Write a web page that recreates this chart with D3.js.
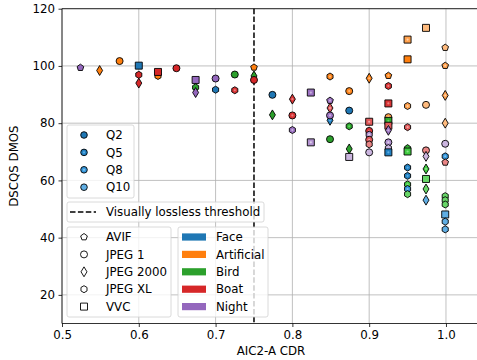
<!DOCTYPE html>
<html>
<head>
<meta charset="utf-8">
<script src="https://cdn.jsdelivr.net/npm/d3@7/dist/d3.min.js"></script>
<style>
  html, body { margin: 0; padding: 0; background: #fff; }
  svg { display: block; font-family: "DejaVu Sans", sans-serif; }
</style>
</head>
<body>
<svg id="chart" width="477" height="360"></svg>
<script>
// Per-image results: AIC2-A CDR vs. DSCQS DMOS, one entry per codec / content / quality
const cdr = [
  0.524, 0.549, 0.575, 0.600, 0.600, 0.600, 0.625, 0.625, 0.649, 0.674,
  0.674, 0.674, 0.700, 0.700, 0.725, 0.725, 0.750, 0.750, 0.750,
  0.774, 0.774, 0.800, 0.800, 0.800, 0.824, 0.824, 0.849, 0.849, 0.849,
  0.849, 0.849, 0.849, 0.874, 0.874, 0.874, 0.874, 0.874,
  0.900, 0.900, 0.900, 0.900, 0.900, 0.900, 0.900,
  0.925, 0.925, 0.925, 0.925, 0.925, 0.925, 0.925, 0.925, 0.925, 0.925,
  0.950, 0.950, 0.950, 0.950, 0.950, 0.950, 0.950, 0.950, 0.950, 0.950, 0.950,
  0.974, 0.974, 0.974, 0.974, 0.974, 0.974, 0.974, 0.974,
  0.999, 0.999, 0.999, 0.999, 0.999, 0.999, 0.999, 0.999, 0.999, 0.999, 0.999, 0.999, 0.999
];
const dmos = [
  99.4, 98.4, 101.7, 100.1, 96.9, 94.0, 96.5, 97.9, 99.2, 95.1,
  92.5, 90.7, 95.6, 91.7, 97.0, 91.5, 99.5, 96.5, 95.1,
  89.9, 82.9, 88.4, 82.7, 77.6, 90.7, 73.3, 96.3, 87.9, 85.3,
  81.0, 82.7, 74.4, 91.2, 84.4, 78.9, 71.0, 68.2,
  95.7, 80.5, 77.3, 76.0, 74.2, 72.6, 69.8,
  96.6, 93.0, 86.9, 82.1, 80.8, 79.1, 77.5, 73.3, 71.3, 69.8,
  109.2, 102.3, 86.0, 78.6, 71.3, 70.1, 64.5, 61.6, 58.6, 57.0, 55.2,
  113.3, 86.4, 70.5, 68.4, 64.0, 60.5, 57.0, 53.1,
  106.4, 100.1, 89.7, 80.0, 72.8, 68.4, 66.3, 54.5, 53.1, 51.6, 48.1, 45.6, 42.9
];
const codec = [
  "AVIF", "JPEG 2000", "JPEG 1", "VVC", "JPEG XL", "JPEG 2000", "JPEG XL", "VVC", "JPEG 1", "VVC",
  "JPEG XL", "JPEG 2000", "JPEG 1", "JPEG XL", "JPEG 1", "JPEG XL", "AVIF", "JPEG 2000", "JPEG 1",
  "JPEG 1", "JPEG 2000", "JPEG 2000", "JPEG 1", "JPEG XL", "VVC", "VVC", "JPEG XL", "AVIF", "JPEG 2000",
  "JPEG 2000", "JPEG 1", "JPEG 1", "JPEG 1", "JPEG 1", "JPEG XL", "JPEG 2000", "VVC",
  "JPEG 2000", "VVC", "JPEG 1", "JPEG XL", "JPEG 1", "JPEG XL", "JPEG 1",
  "AVIF", "JPEG XL", "VVC", "JPEG 1", "VVC", "VVC", "JPEG 2000", "JPEG 1", "JPEG XL", "VVC",
  "VVC", "VVC", "JPEG XL", "JPEG XL", "AVIF", "VVC", "JPEG XL", "JPEG XL", "JPEG XL", "JPEG XL", "JPEG XL",
  "VVC", "JPEG 1", "JPEG 1", "JPEG 2000", "JPEG 2000", "VVC", "JPEG 2000", "JPEG 2000",
  "AVIF", "AVIF", "JPEG 2000", "JPEG 2000", "JPEG 1", "JPEG XL", "AVIF", "JPEG XL", "JPEG XL", "JPEG XL", "VVC", "JPEG XL", "JPEG XL"
];
const content = [
  "Night", "Artificial", "Artificial", "Face", "Boat", "Boat", "Artificial", "Boat", "Boat", "Night",
  "Bird", "Night", "Night", "Face", "Bird", "Boat", "Artificial", "Bird", "Boat",
  "Face", "Bird", "Boat", "Boat", "Night", "Night", "Night", "Artificial", "Night", "Boat",
  "Face", "Night", "Bird", "Artificial", "Face", "Bird", "Bird", "Night",
  "Artificial", "Boat", "Boat", "Night", "Boat", "Boat", "Night",
  "Artificial", "Boat", "Boat", "Artificial", "Bird", "Boat", "Night", "Night", "Night", "Face",
  "Artificial", "Artificial", "Artificial", "Boat", "Bird", "Bird", "Face", "Face", "Bird", "Face", "Bird",
  "Artificial", "Artificial", "Boat", "Night", "Bird", "Bird", "Bird", "Face",
  "Artificial", "Artificial", "Artificial", "Artificial", "Night", "Face", "Boat", "Bird", "Bird", "Bird", "Face", "Face", "Face"
];
const quality = [
  "Q2", "Q2", "Q2", "Q2", "Q2", "Q2", "Q2", "Q2", "Q2", "Q2",
  "Q2", "Q2", "Q2", "Q2", "Q2", "Q5", "Q2", "Q2", "Q2",
  "Q2", "Q2", "Q5", "Q5", "Q5", "Q5", "Q8", "Q5", "Q5", "Q8",
  "Q5", "Q5", "Q2", "Q5", "Q2", "Q5", "Q2", "Q10",
  "Q5", "Q8", "Q5", "Q8", "Q8", "Q10", "Q10",
  "Q5", "Q5", "Q5", "Q8", "Q5", "Q8", "Q5", "Q8", "Q10", "Q5",
  "Q8", "Q2", "Q8", "Q8", "Q5", "Q8", "Q5", "Q5", "Q8", "Q8", "Q10",
  "Q10", "Q10", "Q10", "Q10", "Q8", "Q10", "Q10", "Q10",
  "Q10", "Q8", "Q8", "Q10", "Q10", "Q8", "Q10", "Q10", "Q10", "Q10", "Q10", "Q10", "Q10"
];

const qualityLevels = ["Q2", "Q5", "Q8", "Q10"];
const codecNames = ["AVIF", "JPEG 1", "JPEG 2000", "JPEG XL", "VVC"];
const contentNames = ["Face", "Artificial", "Bird", "Boat", "Night"];
const contentColors = ["#1f77b4", "#ff7f0e", "#2ca02c", "#d62728", "#9467bd"];
const xTicks = [0.5, 0.6, 0.7, 0.8, 0.9, 1.0];
const yTicks = [20, 40, 60, 80, 100, 120];
const threshold = 0.75;

const svg = d3.select("#chart");
const m = { left: 62, right: 477, top: 8.7, bottom: 323.5 };

const x = d3.scaleLinear().domain([0.5, 1.0404]).range([m.left, m.right]);
const y = d3.scaleLinear().domain([10, 120]).range([m.bottom, m.top]);

const colorOf = d3.scaleOrdinal().domain(contentNames).range(contentColors);
// quality lightens the content colour
const lift = { Q2: 0.0, Q5: 0.03, Q8: 0.12, Q10: 0.22 };
function shade(base, q) {
  const c = d3.hsl(base);
  c.l = Math.min(0.9, c.l + lift[q]);
  return c.formatHex();
}
function dotShade(base, q) {
  const c = d3.hsl(base);
  c.l = Math.min(0.92, c.l + lift[q] + 0.18);
  return c.formatHex();
}

// marker geometry (ms = marker size in px)
const ms = 7;
function polygon(n, r, rot) {
  const pts = [];
  for (let i = 0; i < n; i++) {
    const a = rot + i * 2 * Math.PI / n;
    pts.push([r * Math.sin(a), -r * Math.cos(a)]);
  }
  return "M" + pts.map(p => p[0].toFixed(2) + "," + p[1].toFixed(2)).join("L") + "Z";
}
function markerPath(name, size) {
  const h = size / 2;
  switch (name) {
    case "AVIF": return polygon(5, h, 0);
    case "JPEG 1": return `M${h},0A${h},${h} 0 1,1 ${-h},0A${h},${h} 0 1,1 ${h},0Z`;
    case "JPEG 2000": {
      const hy = size * 0.7071, hx = hy * 0.6;
      return `M0,${-hy}L${hx},0L0,${hy}L${-hx},0Z`;
    }
    case "JPEG XL": return polygon(6, h, 0);
    case "VVC": return `M${-h},${-h}L${h},${-h}L${h},${h}L${-h},${h}Z`;
  }
}

const fs = 11.8;

// grid
const grid = svg.append("g");
grid.selectAll(".gx").data(xTicks).join("line")
  .attr("x1", d => x(d)).attr("x2", d => x(d))
  .attr("y1", m.top).attr("y2", m.bottom)
  .attr("stroke", "#b0b0b0").attr("stroke-width", 0.8);
grid.selectAll(".gy").data(yTicks).join("line")
  .attr("x1", m.left).attr("x2", m.right)
  .attr("y1", d => y(d)).attr("y2", d => y(d))
  .attr("stroke", "#b0b0b0").attr("stroke-width", 0.8);

// visually lossless threshold
svg.append("line")
  .attr("x1", x(threshold)).attr("x2", x(threshold))
  .attr("y1", m.top).attr("y2", m.bottom)
  .attr("stroke", "#000").attr("stroke-width", 1.5)
  .attr("stroke-dasharray", "5.5,2.4");

// points
const data = cdr.map((v, i) => ({ x: v, y: dmos[i], codec: codec[i], content: content[i], q: quality[i] }));
const pts = svg.append("g").selectAll("g").data(data).join("g")
  .attr("transform", d => `translate(${x(d.x)},${y(d.y)})`);
pts.append("path")
  .attr("d", d => markerPath(d.codec, ms))
  .attr("fill", d => shade(colorOf(d.content), d.q))
  .attr("stroke", "#000").attr("stroke-width", 0.9);
pts.filter(d => d.q === "Q5" || d.q === "Q8").append("circle")
  .attr("r", 1.1)
  .attr("fill", d => dotShade(colorOf(d.content), d.q));

// axes
const xAxis = d3.axisBottom(x).tickValues(xTicks).tickFormat(d3.format(".1f")).tickSize(3.5).tickPadding(3.5);
const yAxis = d3.axisLeft(y).tickValues(yTicks).tickFormat(d3.format("d")).tickSize(3.5).tickPadding(3.5);
const gx = svg.append("g").attr("transform", `translate(0,${m.bottom})`).call(xAxis);
const gy = svg.append("g").attr("transform", `translate(${m.left},0)`).call(yAxis);
[gx, gy].forEach(g => {
  g.select(".domain").remove();
  g.selectAll("text").attr("font-size", fs).attr("fill", "#000").attr("font-family", "DejaVu Sans");
  g.selectAll("line").attr("stroke", "#000").attr("stroke-width", 0.8);
});
// spines
svg.append("line").attr("x1", m.left).attr("x2", m.right).attr("y1", m.bottom).attr("y2", m.bottom).attr("stroke", "#000").attr("stroke-width", 0.8);
svg.append("line").attr("x1", m.left).attr("x2", m.right).attr("y1", m.top).attr("y2", m.top).attr("stroke", "#000").attr("stroke-width", 0.8);
svg.append("line").attr("x1", m.left).attr("x2", m.left).attr("y1", m.top).attr("y2", m.bottom).attr("stroke", "#000").attr("stroke-width", 0.8);

svg.append("text").attr("x", 271).attr("y", 355)
  .attr("text-anchor", "middle").attr("font-size", fs).text("AIC2-A CDR");
svg.append("text").attr("transform", `translate(18,${(m.top + m.bottom) / 2}) rotate(-90)`)
  .attr("text-anchor", "middle").attr("font-size", fs).text("DSCQS DMOS");

// legends
function legendBox(x0, y0, w, h) {
  svg.append("rect").attr("x", x0).attr("y", y0).attr("width", w).attr("height", h)
    .attr("rx", 2).attr("fill", "#fff").attr("fill-opacity", 0.8)
    .attr("stroke", "#d0d0d0").attr("stroke-width", 0.8);
}

// quality legend
legendBox(67, 125, 67, 73);
const qg = svg.append("g").selectAll("g").data(qualityLevels).join("g")
  .attr("transform", (d, i) => `translate(0,${135 + i * 17.4})`);
qg.append("circle").attr("cx", 84).attr("cy", 0).attr("r", 3.3)
  .attr("fill", d => shade(contentColors[0], d)).attr("stroke", "#000").attr("stroke-width", 0.9);
qg.filter(d => d === "Q5" || d === "Q8").append("circle").attr("cx", 84).attr("r", 1.1)
  .attr("fill", d => dotShade(contentColors[0], d));
qg.append("text").attr("x", 106).attr("y", 0).attr("dy", "0.36em").attr("font-size", fs).text(d => d);

// threshold legend
legendBox(67, 202, 197, 20);
svg.append("line").attr("x1", 70).attr("x2", 96).attr("y1", 212).attr("y2", 212)
  .attr("stroke", "#000").attr("stroke-width", 1.5).attr("stroke-dasharray", "5.5,2.4");
svg.append("text").attr("x", 106).attr("y", 212).attr("dy", "0.36em").attr("font-size", fs)
  .text("Visually lossless threshold");

// codec legend
legendBox(67, 227, 104, 90);
const cg = svg.append("g").selectAll("g").data(codecNames).join("g")
  .attr("transform", (d, i) => `translate(84,${237 + i * 17.4})`);
cg.append("path").attr("d", d => markerPath(d, ms)).attr("fill", "#fff")
  .attr("stroke", "#000").attr("stroke-width", 0.9);
cg.append("text").attr("x", 22).attr("y", 0).attr("dy", "0.36em").attr("font-size", fs).text(d => d);

// content legend
legendBox(178, 227, 90, 90);
const kg = svg.append("g").selectAll("g").data(contentNames).join("g")
  .attr("transform", (d, i) => `translate(0,${237 + i * 17.4})`);
kg.append("rect").attr("x", 182).attr("y", -3.6).attr("width", 24).attr("height", 7.2)
  .attr("fill", d => colorOf(d));
kg.append("text").attr("x", 216).attr("y", 0).attr("dy", "0.36em").attr("font-size", fs).text(d => d);
</script>
</body>
</html>
